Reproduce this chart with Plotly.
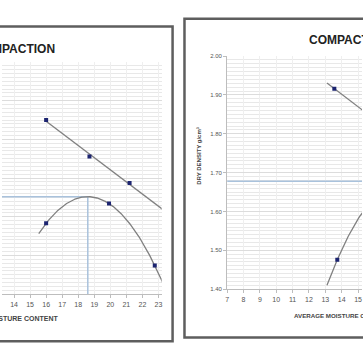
import numpy as np
import plotly.graph_objects as go

# ---------------- data ----------------
# Left chart (cropped): zero-air-voids style line points and compaction points
left_zav_x = [16.0, 18.7, 21.2]
left_zav_y = [1.850, 1.756, 1.687]
left_cmp_x = [16.0, 19.92, 22.77]
left_cmp_y = [1.583, 1.634, 1.474]

# Right chart (cropped)
right_zav_x = [13.55, 16.0, 18.5]
right_zav_y = [1.916, 1.838, 1.757]
right_cmp_x = [13.73, 16.2, 19.5, 22.0]
right_cmp_y = [1.476, 1.645, 1.647, 1.479]

left_xticks = [14, 15, 16, 17, 18, 19, 20, 21, 22, 23]
right_xticks = [7, 8, 9, 10, 11, 12, 13, 14, 15]
yticks = [1.40, 1.50, 1.60, 1.70, 1.80, 1.90, 2.00]

title_text = "COMPACTION"
xtitle_text = "AVERAGE MOISTURE CONTENT"
ytitle_text = "DRY DENSITY g/cm³"

W = H = 363
def px(x):
    return x / W
def py(y):
    return 1 - y / H

LINE = "#808080"
MARK = "#1c2470"
BLUE = "#a9c2dc"
TICKC = "#555555"

fig = go.Figure()

# ---- trendlines (fits of the plotted points) ----
def add_chart(xa, ya, zx, zy, cx, cy, z_from, z_to, c_from, c_to):
    zc = np.polyfit(zx, zy, 1)
    zxs = np.linspace(z_from, z_to, 50)
    fig.add_trace(go.Scatter(x=zxs, y=np.polyval(zc, zxs), mode="lines",
                             line=dict(color=LINE, width=1.3), xaxis=xa, yaxis=ya,
                             showlegend=False, hoverinfo="skip"))
    cc = np.polyfit(cx, cy, 2)
    cxs = np.linspace(c_from, c_to, 200)
    fig.add_trace(go.Scatter(x=cxs, y=np.polyval(cc, cxs), mode="lines",
                             line=dict(color=LINE, width=1.3), xaxis=xa, yaxis=ya,
                             showlegend=False, hoverinfo="skip"))
    peak_x = -cc[1] / (2 * cc[0])
    peak_y = np.polyval(cc, peak_x)
    fig.add_trace(go.Scatter(x=zx, y=zy, mode="markers",
                             marker=dict(symbol="square", size=4, color=MARK),
                             xaxis=xa, yaxis=ya, showlegend=False))
    fig.add_trace(go.Scatter(x=cx, y=cy, mode="markers",
                             marker=dict(symbol="square", size=4, color=MARK),
                             xaxis=xa, yaxis=ya, showlegend=False))
    return peak_x, peak_y

lpx, lpy = add_chart("x", "y", left_zav_x, left_zav_y, left_cmp_x, left_cmp_y,
                     16.0, 23.4, 15.54, 23.4)
rpx, rpy = add_chart("x2", "y2", right_zav_x, right_zav_y, right_cmp_x, right_cmp_y,
                     13.1, 23.0, 13.1, 23.0)

# guide lines at maximum dry density
fig.add_trace(go.Scatter(x=[13.0, lpx, lpx], y=[lpy, lpy, 1.40], mode="lines",
                         line=dict(color=BLUE, width=1.5), xaxis="x", yaxis="y",
                         showlegend=False, hoverinfo="skip"))
fig.add_trace(go.Scatter(x=[7.0, rpx, rpx], y=[rpy, rpy, 1.40], mode="lines",
                         line=dict(color=BLUE, width=1.5), xaxis="x2", yaxis="y2",
                         showlegend=False, hoverinfo="skip"))
# put guide lines below the data lines
fig.data = fig.data[-2:] + fig.data[:-2]

common_x = dict(showgrid=True, gridcolor="#efefef", gridwidth=1, dtick=1,
                showline=True, linecolor="#bdbdbd", linewidth=1,
                ticks="outside", ticklen=3, tickcolor="#bdbdbd",
                tickfont=dict(size=7, color=TICKC, family="Liberation Sans"),
                zeroline=False)
common_y = dict(range=[1.40, 2.00], tickvals=yticks, showgrid=True,
                gridcolor="#dcdcdc", gridwidth=1,
                minor=dict(dtick=0.01, showgrid=True, gridcolor="#e8e8e8", gridwidth=1),
                zeroline=False, showline=True, linecolor="#bdbdbd", linewidth=1,
                ticks="outside", ticklen=3, tickcolor="#bdbdbd",
                tickfont=dict(size=6, color=TICKC, family="Liberation Sans"),
                tickformat=".2f")

fig.update_layout(
    width=W, height=H, margin=dict(l=0, r=0, t=0, b=0),
    paper_bgcolor="white", plot_bgcolor="white", showlegend=False,
    xaxis=dict(common_x, domain=[0, px(161)], range=[13.25, 23.2],
               tickvals=left_xticks, anchor="y"),
    yaxis=dict(common_y, domain=[py(296), py(60)], showticklabels=False,
               ticks="", showline=False, anchor="x"),
    xaxis2=dict(common_x, domain=[px(227), 1], range=[7, 15.24],
                tickvals=right_xticks, anchor="y2"),
    yaxis2=dict(common_y, domain=[py(291), py(54)], anchor="x2"),
)

# frames of the two chart panels (cropped by the image edges)
fig.add_shape(type="rect", xref="paper", yref="paper",
              x0=-0.05, x1=px(172), y0=py(344), y1=py(24),
              line=dict(color="#5e5e5e", width=2.5), layer="above")
fig.add_shape(type="rect", xref="paper", yref="paper",
              x0=px(184), x1=1.05, y0=py(340), y1=py(16),
              line=dict(color="#5e5e5e", width=2.5), layer="above")

TF1 = dict(size=12, color="#222222", family="Liberation Sans", weight="bold")
TF2 = dict(size=12, color="#222222", family="Liberation Sans", weight="bold")
AF1 = dict(size=7, color="#444444", family="Liberation Sans", weight="bold")
AF2 = dict(size=6.2, color="#444444", family="Liberation Sans", weight="bold")
AFY = dict(size=6, color="#444444", family="Liberation Sans", weight="bold")
fig.add_annotation(text=title_text, xref="paper", yref="paper", x=px(55), y=py(47),
                   xanchor="right", yanchor="middle", showarrow=False, font=TF1)
fig.add_annotation(text=title_text, xref="paper", yref="paper", x=px(308), y=py(38),
                   xanchor="left", yanchor="middle", showarrow=False, font=TF2)
fig.add_annotation(text=xtitle_text, xref="paper", yref="paper", x=px(58), y=py(321),
                   xanchor="right", yanchor="middle", showarrow=False, font=AF1)
fig.add_annotation(text=xtitle_text, xref="paper", yref="paper", x=px(292), y=py(318),
                   xanchor="left", yanchor="middle", showarrow=False, font=AF2)
fig.add_annotation(text=ytitle_text, xref="paper", yref="paper", x=px(199), y=py(155),
                   xanchor="center", yanchor="middle", showarrow=False, font=AFY,
                   textangle=-90)
# partially visible "13" tick label at the cropped left edge
fig.add_annotation(text="13", xref="x", yref="paper", x=13, y=py(311),
                   xanchor="center", yanchor="middle", showarrow=False,
                   font=dict(size=7, color=TICKC, family="Liberation Sans"))

fig.write_html("out.html", config={"displayModeBar": False},
               post_script="document.body.style.margin='0px';"
                           "document.body.style.overflow='hidden';")
